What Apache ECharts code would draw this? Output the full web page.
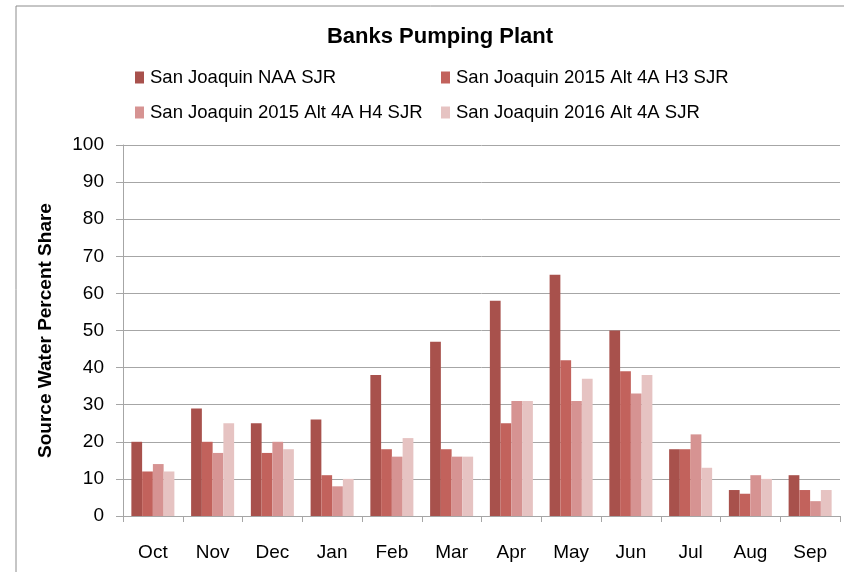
<!DOCTYPE html>
<html>
<head>
<meta charset="utf-8">
<script src="https://cdn.jsdelivr.net/npm/echarts@6/dist/echarts.min.js"></script>
<style>
  html, body { margin: 0; padding: 0; background: #fff; }
  #chart { width: 844px; height: 572px; }
</style>
</head>
<body>
<div id="chart"></div>
<script>
var months = ['Oct', 'Nov', 'Dec', 'Jan', 'Feb', 'Mar', 'Apr', 'May', 'Jun', 'Jul', 'Aug', 'Sep'];
var seriesNames = [
    'San Joaquin NAA SJR',
    'San Joaquin 2015 Alt 4A H3 SJR',
    'San Joaquin 2015 Alt 4A H4 SJR',
    'San Joaquin 2016 Alt 4A SJR'
];
var naaSjr = [20, 29, 25, 26, 38, 47, 58, 65, 50, 18, 7, 11];
var alt2015H3 = [12, 20, 17, 11, 18, 18, 25, 42, 39, 18, 6, 7];
var alt2015H4 = [14, 17, 20, 8, 16, 16, 31, 31, 33, 22, 11, 4];
var alt2016 = [12, 25, 18, 10, 21, 16, 31, 37, 38, 13, 10, 7];

var colors = ['#A8514C', '#C2625C', '#D69392', '#E6C3C2'];
var font = 'Liberation Sans';

var chart = echarts.init(document.getElementById('chart'));

function legendAt(name, left, top) {
    return {
        data: [name],
        left: left,
        top: top,
        itemWidth: 9,
        itemHeight: 12,
        itemGap: 0,
        icon: 'rect',
        textStyle: { fontFamily: font, fontSize: 18.5, color: '#000', padding: [0, 0, 0, 1] }
    };
}

function barSeries(i, data) {
    return {
        name: seriesNames[i],
        type: 'bar',
        data: data,
        barGap: '0%',
        barCategoryGap: '28%',
        itemStyle: { color: colors[i] }
    };
}

var option = {
    animation: false,
    color: colors,
    graphic: [{
        type: 'rect',
        shape: { x: 16, y: 6, width: 1000, height: 700 },
        style: { fill: 'none', stroke: '#8c8c8c', lineWidth: 1 }
    }],
    title: {
        text: 'Banks Pumping Plant',
        left: 435,
        textAlign: 'center',
        top: 21,
        textStyle: { fontFamily: font, fontSize: 22, fontWeight: 'bold', color: '#000' }
    },
    legend: [
        legendAt(seriesNames[0], 130, 63),
        legendAt(seriesNames[1], 436, 63),
        legendAt(seriesNames[2], 130, 98),
        legendAt(seriesNames[3], 436, 98)
    ],
    grid: { left: 123, right: 4, top: 145, bottom: 56 },
    xAxis: {
        type: 'category',
        data: months,
        axisLine: { lineStyle: { color: '#a6a6a6' } },
        axisTick: { show: true, length: 6, lineStyle: { color: '#a6a6a6' } },
        axisLabel: { fontFamily: font, fontSize: 19, color: '#000', margin: 27 }
    },
    yAxis: {
        type: 'value',
        min: 0,
        max: 100,
        interval: 10,
        name: 'Source Water Percent Share',
        nameLocation: 'middle',
        nameGap: 68,
        nameTextStyle: { fontFamily: font, fontSize: 19, fontWeight: 'bold', color: '#000' },
        axisLine: { show: true, lineStyle: { color: '#a6a6a6' } },
        axisTick: { show: true, length: 7, lineStyle: { color: '#a6a6a6' } },
        axisLabel: { fontFamily: font, fontSize: 19, color: '#000', margin: 19 },
        splitLine: { lineStyle: { color: '#a6a6a6', width: 1 } }
    },
    series: [
        barSeries(0, naaSjr),
        barSeries(1, alt2015H3),
        barSeries(2, alt2015H4),
        barSeries(3, alt2016)
    ]
};

chart.setOption(option);
</script>
</body>
</html>
